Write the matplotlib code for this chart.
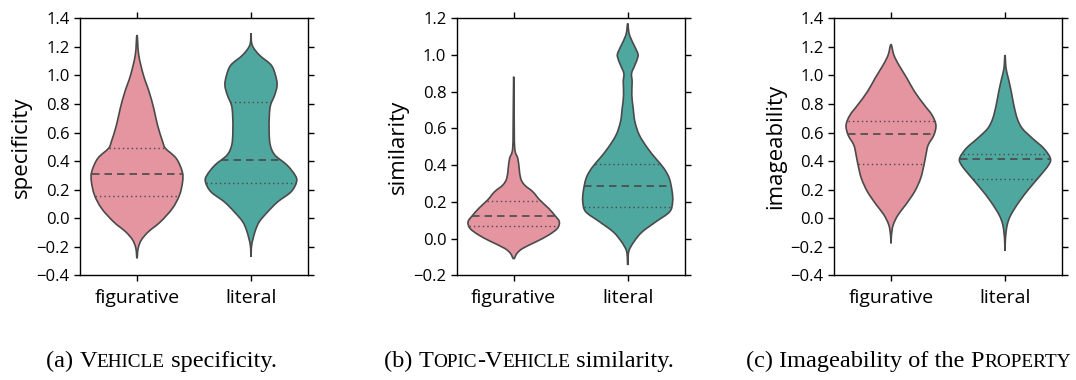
import matplotlib
matplotlib.use("Agg")
import matplotlib.pyplot as plt
import numpy as np
from matplotlib.path import Path
from matplotlib.patches import PathPatch

plt.rcParams["font.family"] = ["Open Sans", "DejaVu Sans"]

categories = ["figurative", "literal"]
colors = ["#e5959f", "#4fa8a0"]

# (a) specificity: outline levels (y) and half widths, quartiles
spec_fig_y = [-0.281, -0.211, -0.153, -0.095, -0.025, 0.069, 0.162, 0.256, 0.326,
              0.419, 0.489, 0.536, 0.652, 0.769, 0.886, 1.003, 1.143, 1.283]
spec_fig_w = [0, 0.01, 0.038, 0.10, 0.206, 0.311, 0.373, 0.40, 0.397,
              0.344, 0.25, 0.225, 0.18, 0.147, 0.106, 0.056, 0.015, 0]
spec_lit_y = [-0.27, -0.188, -0.095, -0.025, 0.045, 0.115, 0.185, 0.256, 0.302, 0.372,
              0.442, 0.512, 0.606, 0.722, 0.793, 0.863, 0.933, 1.003, 1.073, 1.143, 1.213, 1.295]
spec_lit_w = [0, 0.006, 0.035, 0.073, 0.147, 0.235, 0.352, 0.40, 0.386, 0.316,
              0.21, 0.169, 0.159, 0.161, 0.172, 0.208, 0.229, 0.214, 0.176, 0.073, 0.01, 0]
spec_fig_q = [0.157, 0.311, 0.489]
spec_lit_q = [0.248, 0.407, 0.816]

# (b) similarity
sim_fig_y = [-0.11, -0.08, -0.053, -0.017, 0.019, 0.056, 0.092, 0.123, 0.165, 0.21,
             0.255, 0.292, 0.328, 0.383, 0.437, 0.492, 0.673, 0.882]
sim_fig_w = [0, 0.029, 0.08, 0.197, 0.306, 0.384, 0.40, 0.365, 0.306, 0.229,
             0.168, 0.095, 0.061, 0.048, 0.036, 0.009, 0.004, 0]
sim_lit_y = [-0.144, -0.071, -0.017, 0.037, 0.092, 0.146, 0.2, 0.255, 0.328, 0.383, 0.437, 0.492,
             0.564, 0.637, 0.71, 0.782, 0.854, 0.9, 0.945, 0.991, 1.018, 1.072, 1.118, 1.172]
sim_lit_w = [0, 0.009, 0.055, 0.128, 0.248, 0.368, 0.394, 0.39, 0.365, 0.317, 0.245, 0.175,
             0.102, 0.063, 0.048, 0.036, 0.039, 0.034, 0.063, 0.09, 0.083, 0.041, 0.012, 0]
sim_fig_q = [0.069, 0.123, 0.205]
sim_lit_q = [0.17, 0.285, 0.405]

# (c) imageability
img_fig_y = [-0.176, -0.118, -0.048, 0.022, 0.092, 0.186, 0.279, 0.372, 0.442, 0.512,
             0.582, 0.652, 0.722, 0.793, 0.886, 0.98, 1.073, 1.143, 1.216]
img_fig_w = [0, 0.004, 0.019, 0.061, 0.127, 0.207, 0.26, 0.289, 0.306, 0.326,
             0.376, 0.394, 0.36, 0.292, 0.207, 0.14, 0.069, 0.025, 0]
img_lit_y = [-0.23, -0.141, -0.048, 0.022, 0.115, 0.209, 0.302, 0.372, 0.419,
             0.489, 0.559, 0.629, 0.699, 0.793, 0.886, 0.98, 1.05, 1.143]
img_lit_w = [0, 0.004, 0.019, 0.051, 0.124, 0.214, 0.313, 0.382, 0.398,
             0.34, 0.241, 0.151, 0.107, 0.077, 0.055, 0.029, 0.009, 0]
img_fig_q = [0.382, 0.589, 0.683]
img_lit_q = [0.274, 0.414, 0.452]

panels = [
    ("specificity", (-0.4, 1.4), [(spec_fig_y, spec_fig_w, spec_fig_q), (spec_lit_y, spec_lit_w, spec_lit_q)]),
    ("similarity", (-0.2, 1.2), [(sim_fig_y, sim_fig_w, sim_fig_q), (sim_lit_y, sim_lit_w, sim_lit_q)]),
    ("imageability", (-0.4, 1.4), [(img_fig_y, img_fig_w, img_fig_q), (img_lit_y, img_lit_w, img_lit_q)]),
]

# caption pieces: (text, small caps?)
captions = [
    [("(a) ", False), ("V", False), ("EHICLE", True), (" specificity.", False)],
    [("(b) ", False), ("T", False), ("OPIC", True), ("-", False), ("V", False), ("EHICLE", True), (" similarity.", False)],
    [("(c) Imageability of the ", False), ("P", False), ("ROPERTY", True)],
]
caption_x = [46, 384, 746]

axes_left = [80, 456.7, 834]
W, H = 1076, 380
line_col = "#4a4a4a"


# 閉じた点列を Catmull-Rom で滑らかなパスにする
def smooth_closed(points):
    n = len(points)
    verts = [points[0]]
    codes = [Path.MOVETO]
    for i in range(n):
        p0, p1, p2, p3 = points[i - 1], points[i], points[(i + 1) % n], points[(i + 2) % n]
        c1 = p1 + (p2 - p0) / 6.0
        c2 = p2 - (p3 - p1) / 6.0
        verts += [c1, c2, p2]
        codes += [Path.CURVE4] * 3
    return Path(verts, codes)


def draw_violin(ax, pos, ys, ws, qs, color):
    ys = np.array(ys)
    ws = np.array(ws)
    right = np.column_stack([pos + ws, ys])
    left = np.column_stack([pos - ws[::-1], ys[::-1]])[1:-1]
    pts = np.vstack([right, left])
    ax.add_patch(PathPatch(smooth_closed(pts), facecolor=color, edgecolor=line_col, lw=1.2, zorder=2))
    for k, q in enumerate(qs):
        hw = np.interp(q, ys, ws)
        if k == 1:
            ax.plot([pos - hw, pos + hw], [q, q], color=line_col, lw=1.2,
                    dashes=[4.5, 3], zorder=3)
        else:
            ax.plot([pos - hw, pos + hw], [q, q], color=line_col, lw=1.0,
                    dashes=[1, 2.2], zorder=3)


fig = plt.figure(figsize=(W / 100, H / 100), dpi=100)

for i, (label, ylim, violins) in enumerate(panels):
    ax = fig.add_axes([axes_left[i] / W, (H - 275.3) / H, 228 / W, 257 / H])
    for j, (ys, ws, qs) in enumerate(violins):
        draw_violin(ax, j, ys, ws, qs, colors[j])
    ax.set_xlim(-0.5, 1.5)
    ax.set_ylim(*ylim)
    ticks = np.arange(ylim[0], ylim[1] + 0.01, 0.2)
    ax.set_yticks(ticks)
    ax.set_yticklabels([("%.1f" % v).replace("-", "\u2212") for v in ticks])
    ax.set_xticks([0, 1])
    ax.set_xticklabels(categories, fontsize=14)
    ax.set_ylabel(label, fontsize=16, labelpad=3)
    ax.tick_params(direction="out", length=4, width=1, top=True, right=True,
                   labelsize=12, colors="black")
    ax.tick_params(axis="x", labelsize=14, pad=6)
    for s in ax.spines.values():
        s.set_linewidth(1)

# サブキャプション（スモールキャップスを部分ごとに描く）
renderer = fig.canvas.get_renderer()
for cap, x0 in zip(captions, caption_x):
    x = x0
    for text, small in cap:
        size = 13.9 if small else 17.5
        t = fig.text(x / W, 13 / H, text, fontsize=size, family="Liberation Serif",
                     va="baseline", ha="left")
        bb = t.get_window_extent(renderer)
        x = bb.x1

fig.savefig("out.png", dpi=100)
